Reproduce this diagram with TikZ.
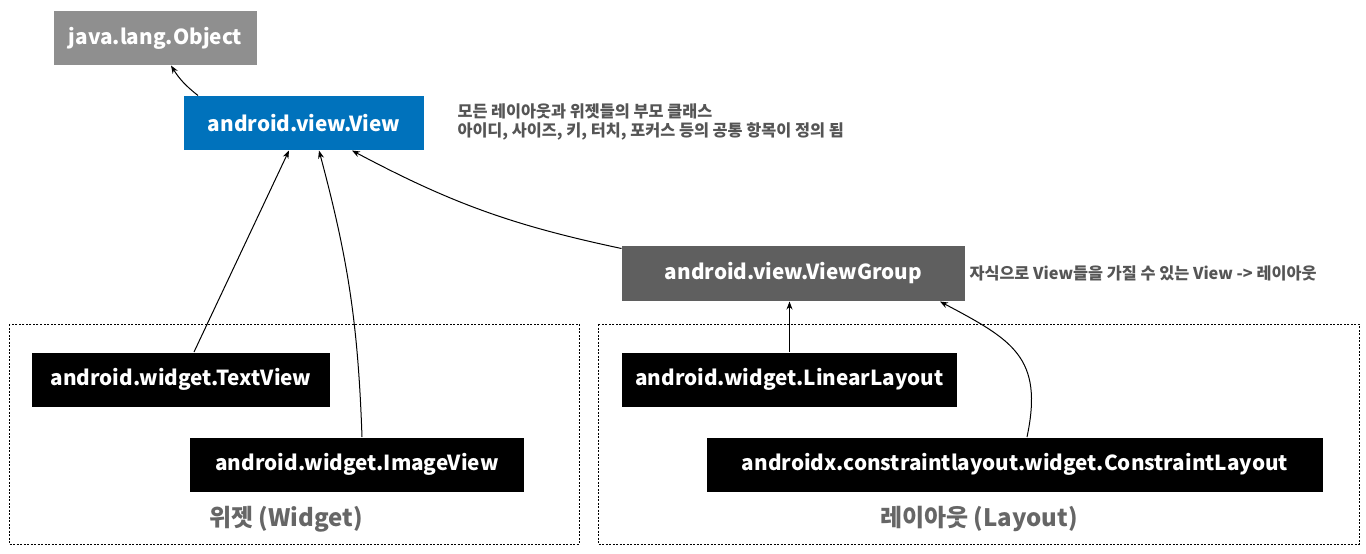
\documentclass[tikz,border=0pt]{standalone}
\usepackage{fontspec}
\setmainfont{Noto Sans CJK KR}
\usetikzlibrary{arrows.meta}

\definecolor{objgray}{HTML}{8F8F8F}
\definecolor{viewblue}{HTML}{0072BC}
\definecolor{groupgray}{HTML}{5F5F5F}
\definecolor{notegray}{HTML}{555555}
\definecolor{labelgray}{HTML}{666666}

\begin{document}
\begin{tikzpicture}[x=1pt, y=1pt, >={Stealth[length=8pt,width=6pt]}, line width=1pt,
  cls/.style={inner sep=0pt, minimum height=54pt, text=white,
              font=\fontsize{20.7}{24}\selectfont\bfseries},
  note/.style={anchor=west, align=left, inner sep=0pt, text=notegray,
               font=\fontsize{16.3}{19}\selectfont\bfseries},
  grouplabel/.style={text=labelgray, font=\fontsize{24}{28}\selectfont\bfseries},
  frame/.style={draw, line width=0.8pt, dash pattern=on 2pt off 1.5pt}]
\useasboundingbox (0,0) rectangle (1366,-554);
% class boxes
\node[cls, fill=objgray, minimum width=203pt] (obj) at (155.5,-38) {java.lang.Object};
\node[cls, fill=viewblue, minimum width=240pt] (view) at (304,-123) {android.view.View};
\node[cls, fill=groupgray, minimum width=343pt, minimum height=55pt] (vgroup) at (793.5,-273.5) {android.view.ViewGroup};
\node[cls, fill=black, minimum width=298pt] (tv) at (181,-379.5) {android.widget.TextView};
\node[cls, fill=black, minimum width=334pt] (iv) at (357,-464.5) {android.widget.ImageView};
\node[cls, fill=black, minimum width=335pt] (ll) at (789.5,-379.5) {android.widget.LinearLayout};
\node[cls, fill=black, minimum width=616pt] (cl) at (1015,-464.5) {androidx.constraintlayout.widget.ConstraintLayout};
% groups
\draw[frame] (9,-324) rectangle (579,-544);
\draw[frame] (598,-324) rectangle (1359,-544);
\node[grouplabel] (wlabel) at (286,-519) {위젯 (Widget)};
\node[grouplabel] (llabel) at (979,-519) {레이아웃 (Layout)};
% notes
\node[note] (viewnote) at (457,-121.5) {모든 레이아웃과 위젯들의 부모 클래스\\아이디, 사이즈, 키, 터치, 포커스 등의 공통 항목이 정의 됨};
\node[note] (groupnote) at (969,-273) {자식으로 View들을 가질 수 있는 View -> 레이아웃};
% inheritance
\draw[->] ([xshift=-106pt]view.north) to[bend left=10] ([xshift=15.5pt]obj.south);
\draw[->] ([xshift=13pt]tv.north) -- ([xshift=-15pt]view.south);
\draw[->] ([xshift=5pt]iv.north) to[out=92,in=-75] ([xshift=15pt]view.south);
\draw[->] ([yshift=-3pt]vgroup.north west) to[bend left=8] ([xshift=48pt]view.south);
\draw[->] (ll.north) -- (ll.north |- vgroup.south);
\draw[->] ([xshift=12pt]cl.north) to[out=78,in=-28,looseness=1.3] ([xshift=146.5pt]vgroup.south);
\end{tikzpicture}
\end{document}
